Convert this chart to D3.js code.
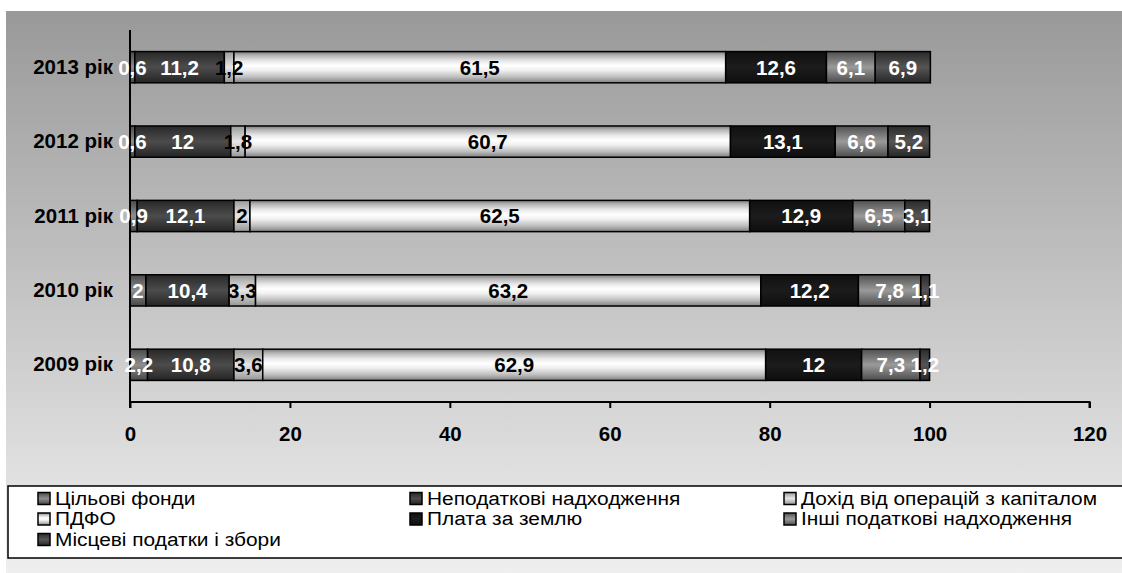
<!DOCTYPE html>
<html>
<head>
<meta charset="utf-8">
<script src="https://cdn.jsdelivr.net/npm/d3@7"></script>
<style>
  body { margin: 0; background: #fff; }
  svg { display: block; }
</style>
</head>
<body>
<svg id="chart" width="1122" height="573"></svg>
<script>
// ---- data ----
const categories = ["2013 рік", "2012 рік", "2011 рік", "2010 рік", "2009 рік"];
const seriesNames = [
  "Цільові фонди",
  "Неподаткові надходження",
  "Дохід від операцій з капіталом",
  "ПДФО",
  "Плата за землю",
  "Інші податкові надходження",
  "Місцеві податки і збори"
];
const tsilovi      = [0.6, 0.6, 0.9, 2,    2.2];
const nepodatkovi  = [11.2, 12, 12.1, 10.4, 10.8];
const kapital      = [1.2, 1.8, 2,   3.3,  3.6];
const pdfo         = [61.5, 60.7, 62.5, 63.2, 62.9];
const zemlia       = [12.6, 13.1, 12.9, 12.2, 12];
const inshi        = [6.1, 6.6, 6.5, 7.8, 7.3];
const mistsevi     = [6.9, 5.2, 3.1, 1.1, 1.2];
const seriesValues = [tsilovi, nepodatkovi, kapital, pdfo, zemlia, inshi, mistsevi];
const xTicks = [0, 20, 40, 60, 80, 100, 120];

// ---- styles ----
const gradStops = [
  [["0", "#4a4a4a"], ["0.5", "#8e8e8e"], ["1", "#454545"]],
  [["0", "#282828"], ["0.5", "#4c4c4c"], ["1", "#242424"]],
  [["0", "#9a9a9a"], ["0.5", "#e6e6e6"], ["1", "#959595"]],
  [["0", "#7a7a7a"], ["0.12", "#b4b4b4"], ["0.3", "#e8e8e8"], ["0.45", "#ffffff"], ["0.6", "#f0f0f0"], ["0.82", "#bcbcbc"], ["1", "#808080"]],
  [["0", "#101010"], ["0.5", "#1c1c1c"], ["1", "#0e0e0e"]],
  [["0", "#505050"], ["0.5", "#9a9a9a"], ["1", "#4c4c4c"]],
  [["0", "#2a2a2a"], ["0.5", "#555555"], ["1", "#262626"]]
];
const labelColors = ["#fff", "#fff", "#000", "#000", "#fff", "#fff", "#fff"];

const svg = d3.select("#chart");
const defs = svg.append("defs");

const bg = defs.append("linearGradient").attr("id", "bg").attr("x1", 0).attr("y1", 0).attr("x2", 0).attr("y2", 1);
bg.append("stop").attr("offset", "0").attr("stop-color", "#999999");
bg.append("stop").attr("offset", "1").attr("stop-color", "#efefef");

gradStops.forEach((stops, i) => {
  const g = defs.append("linearGradient").attr("id", "g" + i)
    .attr("x1", 0).attr("y1", 0).attr("x2", 0).attr("y2", 1);
  stops.forEach(s => g.append("stop").attr("offset", s[0]).attr("stop-color", s[1]));
});

svg.append("rect").attr("x", 0).attr("y", 0).attr("width", 1122).attr("height", 573).attr("fill", "#fff");
svg.append("rect").attr("x", 6).attr("y", 11).attr("width", 1116).attr("height", 562).attr("fill", "url(#bg)");

const x = d3.scaleLinear().domain([0, 120]).range([130, 1089.5]);
const y = d3.scaleBand().domain(categories).range([30, 402]).paddingInner(0.58).paddingOuter(0.29);

// stacked data
const rows = categories.map((c, ci) => {
  let acc = 0;
  return seriesNames.map((s, si) => {
    const v = seriesValues[si][ci];
    const seg = { cat: c, si, v, x0: acc, x1: acc + v };
    acc += v;
    return seg;
  });
});
const segs = rows.flat();

const fontB = "'Liberation Sans', Arial, sans-serif";
const fsBold = 20.5;

svg.append("g").selectAll("rect").data(segs).join("rect")
  .attr("x", d => x(d.x0))
  .attr("y", d => y(d.cat))
  .attr("width", d => x(d.x1) - x(d.x0))
  .attr("height", y.bandwidth())
  .attr("fill", d => `url(#g${d.si})`)
  .attr("stroke", "#000")
  .attr("stroke-width", 1.5);

// axes
const xAxis = svg.append("g").attr("transform", "translate(0,402)")
  .call(d3.axisBottom(x).tickValues(xTicks).tickSize(6).tickPadding(18).tickFormat(d3.format("d")));
xAxis.select(".domain").attr("stroke", "#000").attr("stroke-width", 2).attr("d", `M${x(0)},6V0H${x(120)}V6`);
xAxis.selectAll(".tick line").attr("stroke", "#000").attr("stroke-width", 2);
xAxis.selectAll(".tick text").attr("font-family", fontB).attr("font-weight", "bold")
  .attr("font-size", fsBold).attr("fill", "#000");

const yAxis = svg.append("g").attr("transform", `translate(${x(0)},0)`)
  .call(d3.axisLeft(y).tickSize(0).tickPadding(17));
yAxis.select(".domain").attr("stroke", "#000").attr("stroke-width", 2).attr("d", "M0,30V402");
yAxis.selectAll(".tick text").attr("font-family", fontB).attr("font-weight", "bold")
  .attr("font-size", fsBold).attr("fill", "#000");

// value labels
svg.append("g").selectAll("text").data(segs).join("text")
  .attr("x", d => (x(d.x0) + x(d.x1)) / 2)
  .attr("y", d => y(d.cat) + y.bandwidth() / 2)
  .attr("dy", "0.36em")
  .attr("text-anchor", "middle")
  .attr("font-family", fontB).attr("font-weight", "bold").attr("font-size", fsBold)
  .attr("fill", d => labelColors[d.si])
  .text(d => String(d.v).replace(".", ","));

// legend
svg.append("rect").attr("x", 8).attr("y", 486).attr("width", 1120).attr("height", 72)
  .attr("fill", "#fff").attr("stroke", "#000").attr("stroke-width", 1.5);
const colX = [37, 409, 783];
const rowY = [498.5, 519, 539.5];
const leg = svg.append("g").selectAll("g").data(seriesNames).join("g")
  .attr("transform", (d, i) => `translate(${colX[i % 3]},${rowY[Math.floor(i / 3)]})`);
leg.append("rect").attr("x", 1).attr("y", -6).attr("width", 12).attr("height", 12)
  .attr("fill", (d, i) => `url(#g${i})`).attr("stroke", "#000").attr("stroke-width", 1.5);
leg.append("text").attr("transform", "translate(18,0) scale(1.16,1)").attr("dy", "0.35em")
  .attr("font-family", fontB).attr("font-size", 18).attr("fill", "#000")
  .text(d => d);
</script>
</body>
</html>
